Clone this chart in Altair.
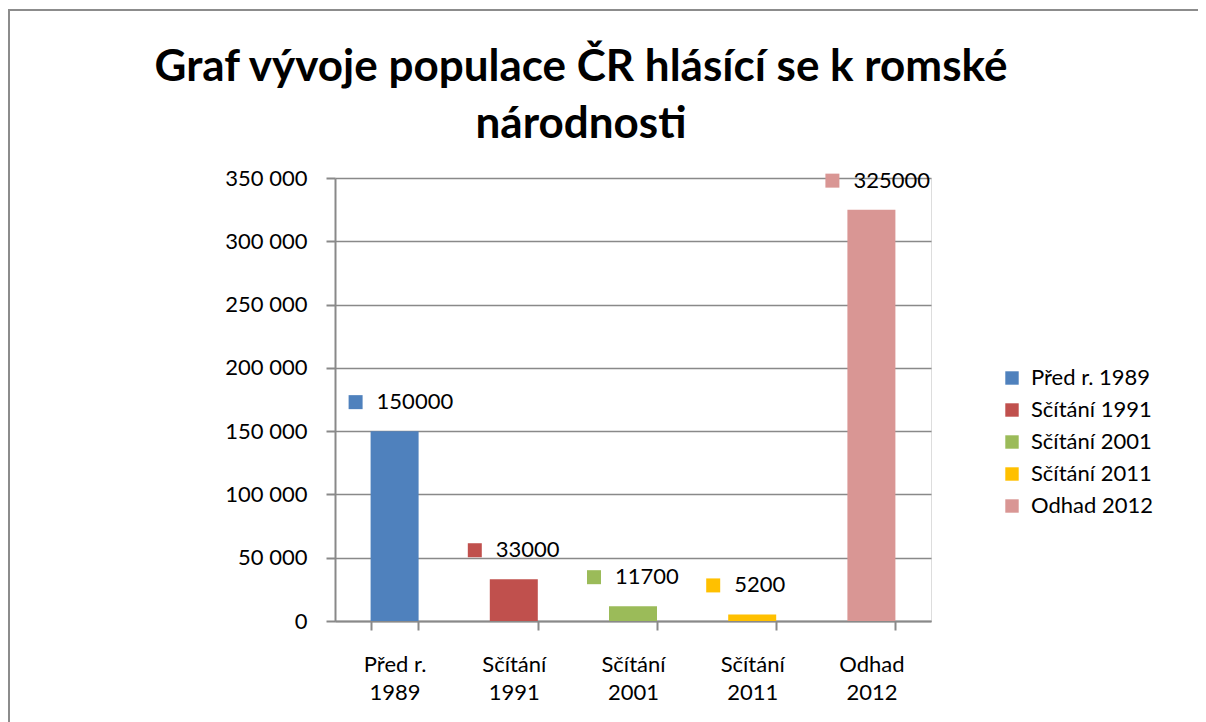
import altair as alt
import pandas as pd

categories = ["Před r. 1989", "Sčítání 1991", "Sčítání 2001", "Sčítání 2011", "Odhad 2012"]
values = [150000, 33000, 11700, 5200, 325000]
colors = ["#4F81BD", "#C0504D", "#9BBB59", "#FFC000", "#D99694"]
y_ticks = [0, 50000, 100000, 150000, 200000, 250000, 300000, 350000]
title_lines = ["Graf vývoje populace ČR hlásící se k romské", "národnosti"]

df = pd.DataFrame({"kategorie": categories, "pocet": values})

FONT = "Lato"
GRAY = "#898989"

x_enc = alt.X(
    "kategorie:N",
    sort=categories,
    title=None,
    scale=alt.Scale(paddingInner=0.6, paddingOuter=0.3),
    axis=alt.Axis(
        labelAngle=0,
        labelFont=FONT,
        labelFontSize=22,
        labelColor="#000000",
        labelPadding=24,
        labelLineHeight=28,
        labelExpr="[slice(datum.label, 0, lastindexof(datum.label, ' ')), slice(datum.label, lastindexof(datum.label, ' ') + 1)]",
        tickBand="extent",
        tickSize=9,
        tickColor=GRAY,
        tickWidth=2,
        domainColor=GRAY,
        domainWidth=2,
        grid=False,
    ),
)

y_enc = alt.Y(
    "pocet:Q",
    title=None,
    scale=alt.Scale(domain=[0, 350000], nice=False),
    axis=alt.Axis(
        values=y_ticks,
        labelExpr="replace(format(datum.value, ','), ',', ' ')",
        labelFont=FONT,
        labelFontSize=22,
        labelColor="#000000",
        labelPadding=19,
        tickSize=9,
        tickColor=GRAY,
        tickWidth=2,
        domainColor=GRAY,
        domainWidth=2,
        gridColor=GRAY,
        gridWidth=1.6,
    ),
)

color_enc = alt.Color(
    "kategorie:N",
    sort=categories,
    scale=alt.Scale(domain=categories, range=colors),
    legend=alt.Legend(
        title=None,
        orient="none",
        legendX=666,
        legendY=189,
        symbolType="square",
        symbolSize=180,
        symbolStrokeWidth=0,
        labelFont=FONT,
        labelFontSize=22,
        labelColor="#000000",
        labelOffset=8,
        rowPadding=10,
        padding=0,
    ),
)

base = alt.Chart(df)

bars = base.mark_bar(size=48).encode(x=x_enc, y=y_enc, color=color_enc)

squares = base.mark_square(size=196, opacity=1, filled=True, xOffset=-39, yOffset=-29).encode(
    x=alt.X("kategorie:N", sort=categories),
    y="pocet:Q",
    color=alt.Color("kategorie:N", sort=categories, legend=None),
)

labels = base.mark_text(
    align="left", baseline="middle", dx=-18, dy=-29, font=FONT, fontSize=22, color="#000000"
).encode(
    x=alt.X("kategorie:N", sort=categories),
    y="pocet:Q",
    text=alt.Text("pocet:Q", format="d"),
)

frame = alt.Chart(pd.DataFrame({"f": [0]})).mark_rect(
    fill=None, stroke="#8C8C8C", strokeWidth=2
).encode(
    x=alt.value(-326), x2=alt.value(864), y=alt.value(-168), y2=alt.value(600)
)

chart = alt.layer(frame, bars, squares, labels).properties(
    width=596,
    height=443,
    padding={"left": 327, "top": 170, "right": 267, "bottom": 110},
    autosize=alt.AutoSizeParams(type="none"),
    title=alt.TitleParams(
        text=title_lines,
        font=FONT,
        fontSize=44,
        fontWeight="bold",
        color="#000000",
        anchor="middle",
        frame="group",
        baseline="alphabetic",
        dx=-52,
        offset=-173,
        lineHeight=57,
    ),
).configure_view(stroke=None).configure(background="#FFFFFF")

chart.save("out.html", embed_options={"renderer": "svg", "actions": False})
